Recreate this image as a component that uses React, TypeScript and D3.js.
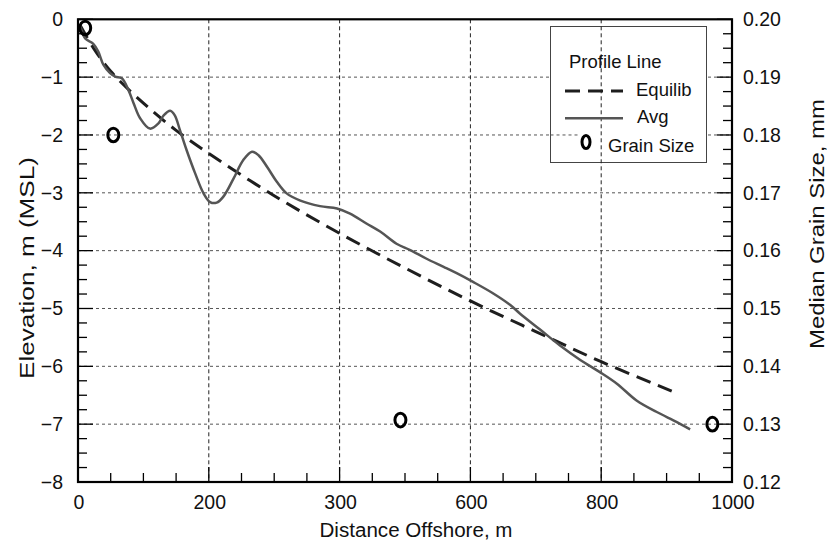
import React from "react";
import * as d3 from "d3";

const W = 827;
const H = 543;

const xTickValues = [0, 200, 400, 600, 800, 1000];
const xTickLabels = ["0", "200", "300", "600", "800", "1000"];
const yTickValues = [0, -1, -2, -3, -4, -5, -6, -7, -8];
const yTickLabels = ["0", "\u22121", "\u22122", "\u22123", "\u22124", "\u22125", "\u22126", "\u22127", "\u22128"];
const y2TickValues = [0.2, 0.19, 0.18, 0.17, 0.16, 0.15, 0.14, 0.13, 0.12];
const y2TickLabels = ["0.20", "0.19", "0.18", "0.17", "0.16", "0.15", "0.14", "0.13", "0.12"];

// Average measured profile (distance m, elevation m)
const avgX = [3, 11, 23, 31, 39, 49, 57, 67, 77, 85, 95, 110, 123, 131, 141, 148, 156, 166, 179, 192, 202, 212, 222, 238, 253, 266, 276, 289, 304, 319, 339, 370, 396, 416, 441, 462, 487, 508, 533, 559, 579, 604, 635, 661, 676, 706, 737, 768, 798, 824, 854, 885, 915, 936];
const avgY = [-0.1, -0.33, -0.42, -0.56, -0.79, -0.93, -0.99, -1.02, -1.22, -1.45, -1.71, -1.89, -1.8, -1.66, -1.58, -1.66, -1.92, -2.26, -2.66, -3.01, -3.16, -3.17, -3.07, -2.75, -2.43, -2.29, -2.35, -2.55, -2.81, -3.01, -3.13, -3.23, -3.27, -3.36, -3.53, -3.67, -3.88, -3.99, -4.14, -4.28, -4.39, -4.54, -4.74, -4.94, -5.09, -5.36, -5.64, -5.89, -6.1, -6.3, -6.59, -6.79, -6.96, -7.09];

// Equilibrium profile
const eqX = [3, 25, 50, 100, 150, 200, 300, 400, 500, 600, 700, 800, 915];
const eqY = [-0.1, -0.52, -0.9, -1.45, -1.92, -2.32, -3.05, -3.7, -4.3, -4.87, -5.4, -5.92, -6.46];

// Grain size samples (distance m, median grain size mm)
const grainX = [11, 54, 493, 970];
const grainSize = [0.1985, 0.18, 0.1307, 0.13];

const FONT = "'Liberation Sans', Arial, Helvetica, sans-serif";

export default function App() {
  const L = 78, R = 732, T = 19.3, B = 482;
  const x = d3.scaleLinear().domain([0, 1000]).range([L, R]);
  const y = d3.scaleLinear().domain([-8, 0]).range([B, T]);
  const y2 = d3.scaleLinear().domain([0.12, 0.2]).range([B, T]);

  const avgPath = d3
    .line<number>()
    .x((_, i) => x(avgX[i]))
    .y((_, i) => y(avgY[i]))
    .curve(d3.curveCatmullRom.alpha(0.5))(avgX) as string;
  const eqPath = d3
    .line<number>()
    .x((_, i) => x(eqX[i]))
    .y((_, i) => y(eqY[i]))
    .curve(d3.curveCatmullRom.alpha(0.5))(eqX) as string;

  const xMinor = d3.range(0, 1000.01, 50);
  const yMinor = d3.range(-8, 0.001, 0.25);
  const y2Minor = d3.range(0.12, 0.20001, 0.0025);

  const fs = 19.5;
  const lfs = 18.5;

  return (
    <svg
      width={W}
      height={H}
      viewBox={`0 0 ${W} ${H}`}
      style={{ position: "absolute", left: 0, top: 0, background: "#fff" }}
      fontFamily={FONT}
    >
      <rect x={0} y={0} width={W} height={H} fill="#fff" />
      {yTickValues.slice(1, 8).map((v) => (
        <line key={"hg" + v} x1={L} x2={R} y1={y(v)} y2={y(v)} stroke="#555" strokeWidth={1} strokeDasharray="3,3" />
      ))}
      <rect x={550.5} y={26.5} width={156} height={136} fill="#fff" stroke="#444" strokeWidth={1} />
      {xTickValues.slice(1, 5).map((v) => (
        <line key={"vg" + v} x1={x(v)} x2={x(v)} y1={T} y2={B} stroke="#222" strokeWidth={1} strokeDasharray="4,3" />
      ))}
      <line x1={550.5} x2={580} y1={y(-2)} y2={y(-2)} stroke="#555" strokeWidth={1} strokeDasharray="3,3" />

      <path d={eqPath} fill="none" stroke="#1e1e1e" strokeWidth={3} strokeDasharray="15,8" />
      <path d={avgPath} fill="none" stroke="#555" strokeWidth={2.5} strokeLinejoin="round" />

      {grainX.map((g, i) => (
        <ellipse key={"gs" + i} cx={x(g)} cy={y2(grainSize[i])} rx={5.5} ry={6.8} fill="none" stroke="#000" strokeWidth={3} />
      ))}

      {yMinor.map((v, i) => (
        <line key={"ylt" + i} x1={L} x2={L + (Math.abs(v - Math.round(v)) < 1e-6 ? 15 : 9)} y1={y(v)} y2={y(v)} stroke="#000" strokeWidth={1.3} />
      ))}
      {xMinor.map((v, i) => (
        <line key={"xt" + i} x1={x(v)} x2={x(v)} y1={B} y2={B - (v % 200 === 0 ? 15 : 9)} stroke="#000" strokeWidth={1.3} />
      ))}
      {y2Minor.map((v, i) => {
        const major = Math.abs(v * 100 - Math.round(v * 100)) < 1e-6;
        return <line key={"y2t" + i} x1={R} x2={R - (major ? 15 : 9)} y1={y2(v)} y2={y2(v)} stroke="#000" strokeWidth={1.3} />;
      })}

      <rect x={L} y={T} width={R - L} height={B - T} fill="none" stroke="#000" strokeWidth={2.2} />

      {yTickValues.map((v, i) => (
        <text key={"yl" + v} x={63} y={y(v)} dy="0.35em" textAnchor="end" fontSize={fs} fill="#111">
          {yTickLabels[i]}
        </text>
      ))}
      {xTickValues.map((v, i) => (
        <text key={"xl" + v} x={x(v) + 1} y={508.5} textAnchor="middle" fontSize={fs} fill="#111">
          {xTickLabels[i]}
        </text>
      ))}
      {y2TickValues.map((v, i) => (
        <text key={"y2l" + i} x={743} y={y2(v)} dy="0.35em" textAnchor="start" fontSize={fs} fill="#111">
          {y2TickLabels[i]}
        </text>
      ))}

      <text x={416} y={537} textAnchor="middle" fontSize={20} fill="#111" textLength={193} lengthAdjust="spacingAndGlyphs">
        Distance Offshore, m
      </text>
      <text transform="translate(34,268) rotate(-90)" textAnchor="middle" fontSize={20} fill="#111" textLength={222} lengthAdjust="spacingAndGlyphs">
        Elevation, m (MSL)
      </text>
      <text transform="translate(824,224) rotate(-90)" textAnchor="middle" fontSize={20} fill="#111" textLength={250} lengthAdjust="spacingAndGlyphs">
        Median Grain Size, mm
      </text>

      <text x={569} y={68} fontSize={lfs} fill="#111">Profile Line</text>
      <line x1={565} x2={623} y1={91} y2={91} stroke="#1e1e1e" strokeWidth={3} strokeDasharray="15,8" />
      <text x={636} y={96} fontSize={lfs} fill="#111">Equilib</text>
      <line x1={565} x2={623} y1={118.3} y2={118.3} stroke="#555" strokeWidth={2.5} />
      <text x={637} y={122.5} fontSize={lfs} fill="#111">Avg</text>
      <ellipse cx={586} cy={142} rx={4} ry={6.5} fill="none" stroke="#000" strokeWidth={3} />
      <text x={608} y={151.5} fontSize={lfs} fill="#111">Grain Size</text>
    </svg>
  );
}
